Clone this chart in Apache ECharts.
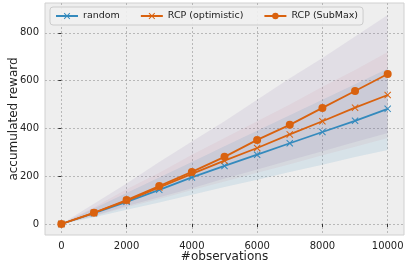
<!DOCTYPE html>
<html>
<head>
<meta charset="utf-8">
<script src="https://cdn.jsdelivr.net/npm/echarts@6/dist/echarts.min.js"></script>
<style>
html,body{margin:0;padding:0;background:#fff;}
#main{width:408px;height:267px;}
</style>
</head>
<body>
<div id="main"></div>
<script>
// data
var obs = [0, 1000, 2000, 3000, 4000, 5000, 6000, 7000, 8000, 9000, 10000];
var randomMean = [0, 45, 93, 143, 195, 243, 290, 338, 385, 432, 482];
var optMean = [0, 47, 97, 153, 210, 265, 318, 375, 430, 487, 540];
var subMean = [0, 47, 100, 159, 218, 281, 352, 415, 486, 557, 628];
var randomLo = [0, 28, 60, 90, 122, 155, 185, 218, 248, 280, 310];
var randomHi = [0, 65, 130, 195, 260, 325, 390, 455, 520, 585, 650];
var optLo = [0, 32, 70, 105, 142, 178, 215, 250, 288, 323, 360];
var optHi = [0, 70, 145, 215, 290, 360, 430, 500, 575, 645, 720];
var subLo = [0, 35, 75, 112, 150, 190, 228, 267, 305, 343, 381];
var subHi = [0, 85, 170, 260, 345, 430, 520, 610, 695, 785, 875];
var xTicks = [0, 2000, 4000, 6000, 8000, 10000];
var yTicks = [0, 200, 400, 600, 800];

var blue = '#348ABD';
var orange = '#D9620F';
var xMark = 'path://M0,1L1,0L5,4L9,0L10,1L6,5L10,9L9,10L5,6L1,10L0,9L4,5Z';

function pairs(ys) {
  return obs.map(function (x, i) { return [x, ys[i]]; });
}

// shaded band drawn as one polygon through the axis scales
function band(name, lo, hi, color, alpha) {
  var rows = obs.map(function (x, i) { return [x, lo[i], hi[i]]; });
  return {
    type: 'custom',
    name: name,
    silent: true,
    z: 1,
    data: rows,
    encode: { x: 0, y: [1, 2] },
    renderItem: function (params, api) {
      if (params.dataIndex !== 0) return;
      var pts = [];
      rows.forEach(function (r) { pts.push(api.coord([r[0], r[2]])); });
      for (var i = rows.length - 1; i >= 0; i--) pts.push(api.coord([rows[i][0], rows[i][1]]));
      return {
        type: 'polygon',
        shape: { points: pts },
        style: { fill: color, opacity: alpha }
      };
    }
  };
}

var myChart = echarts.init(document.getElementById('main'));
var option = {
  animation: false,
  textStyle: { fontFamily: 'DejaVu Sans' },
  grid: {
    left: 45, right: 4, top: 3, bottom: 32,
    containLabel: false, outerBoundsMode: 'none',
    show: true, backgroundColor: '#eeeeee', borderColor: '#d0d0d0', borderWidth: 1
  },
  legend: {
    left: 50, top: 7,
    data: ['random', 'RCP (optimistic)', 'RCP (SubMax)'],
    itemWidth: 22, itemHeight: 8, itemGap: 20,
    padding: [4, 5],
    backgroundColor: 'rgba(240,240,240,0.9)',
    borderColor: '#cccccc', borderWidth: 1, borderRadius: 3,
    textStyle: { fontSize: 9.5, color: '#222' }
  },
  xAxis: {
    type: 'value', min: -500, max: 10500,
    name: '#observations', nameLocation: 'middle', nameGap: 16, nameMoveOverlap: false,
    nameTextStyle: { fontSize: 12, color: '#222' },
    axisLine: { show: false },
    axisTick: { show: true, length: 3, customValues: xTicks, lineStyle: { color: '#333' } },
    axisLabel: {
      customValues: xTicks, fontSize: 10, color: '#222', margin: 6,
      formatter: function (v) { return String(v); }
    },
    splitLine: { show: true, lineStyle: { color: '#aaaaaa', type: [2, 2], width: 0.8 } }
  },
  yAxis: {
    type: 'value', min: -46, max: 925,
    name: 'accumulated reward', nameLocation: 'middle', nameGap: 25, nameMoveOverlap: false,
    nameTextStyle: { fontSize: 12, color: '#222' },
    axisLine: { show: false },
    axisTick: { show: true, length: 3, customValues: yTicks, lineStyle: { color: '#333' } },
    axisLabel: {
      customValues: yTicks, fontSize: 10, color: '#222', margin: 6,
      formatter: function (v) { return String(v); }
    },
    splitLine: { show: true, lineStyle: { color: '#aaaaaa', type: [2, 2], width: 0.8 } }
  },
  series: [
    band('randomBand', randomLo, randomHi, blue, 0.12),
    band('optBand', optLo, optHi, '#c0506a', 0.07),
    band('subBand', subLo, subHi, '#7a5a9a', 0.1),
    {
      type: 'line', name: 'random', data: pairs(randomMean), z: 3,
      color: blue, lineStyle: { width: 1.8 },
      symbol: xMark, symbolSize: 7, showSymbol: true
    },
    {
      type: 'line', name: 'RCP (optimistic)', data: pairs(optMean), z: 4,
      color: orange, lineStyle: { width: 1.8 },
      symbol: xMark, symbolSize: 7, showSymbol: true
    },
    {
      type: 'line', name: 'RCP (SubMax)', data: pairs(subMean), z: 5,
      color: orange, lineStyle: { width: 1.8 },
      symbol: 'circle', symbolSize: 8, showSymbol: true
    }
  ]
};
myChart.setOption(option);
</script>
</body>
</html>
